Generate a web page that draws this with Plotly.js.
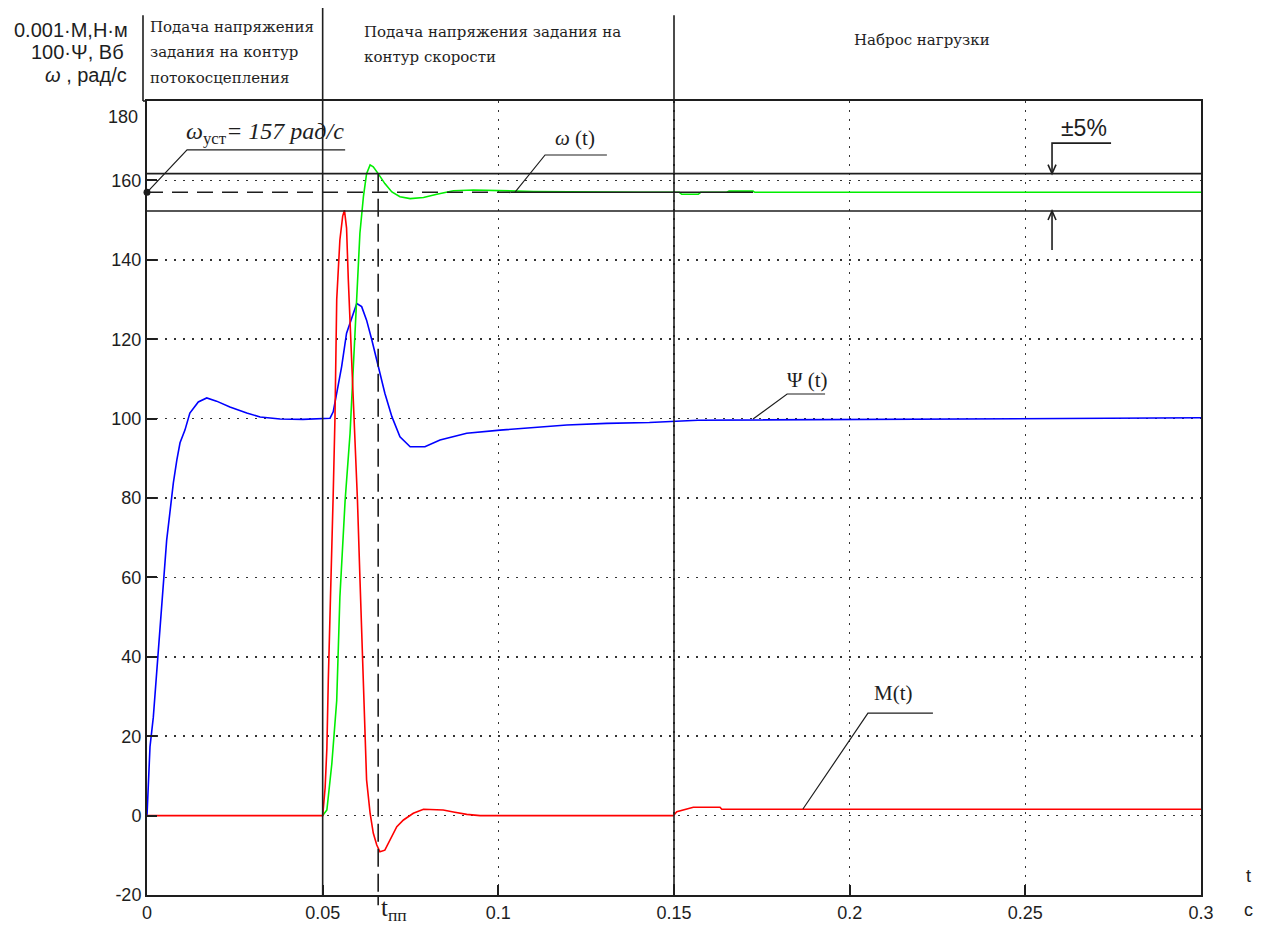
<!DOCTYPE html>
<html>
<head>
<meta charset="utf-8">
<script src="https://cdn.plot.ly/plotly-3.0.1.min.js"></script>
<style>
  html, body { margin: 0; padding: 0; background: #ffffff; }
  #chart { width: 1268px; height: 928px; }
</style>
</head>
<body>
<div id="chart"></div>
<script>
// Flux linkage 100·Ψ, Wb
const tPsi = [0, 0.0004, 0.00085, 0.0018, 0.0028, 0.0037, 0.0046, 0.0056, 0.0065, 0.0075,
  0.0085, 0.0094, 0.0108, 0.0122, 0.0146, 0.0170, 0.0198, 0.0236, 0.0284, 0.0322,
  0.0379, 0.0444, 0.0521, 0.0530, 0.0540, 0.0554, 0.0568, 0.0583, 0.0597, 0.0611,
  0.0625, 0.0640, 0.0658, 0.0677, 0.0697, 0.0720, 0.0749, 0.0791, 0.0834, 0.0910,
  0.1005, 0.1100, 0.1195, 0.1308, 0.1430, 0.1568, 0.2249, 0.3];
const psiValues = [0, 9.5, 17.3, 24.8, 36.7, 49.3, 59.3, 69.4, 76.2, 83.8,
  89.6, 93.9, 97.1, 101.4, 104.2, 105.2, 104.4, 102.9, 101.4, 100.4,
  99.9, 99.8, 100.1, 101.7, 106.4, 113.1, 121.5, 125.7, 129.0, 128.2,
  124.8, 119.8, 113.1, 106.4, 100.5, 95.4, 92.9, 92.9, 94.6, 96.3,
  97.1, 97.8, 98.4, 98.8, 99.0, 99.6, 99.9, 100.2];

// Rotor speed ω, rad/s
const tOmega = [0.0500, 0.0512, 0.0526, 0.0540, 0.0549, 0.0564, 0.0578, 0.0587, 0.0597, 0.0606,
  0.0616, 0.0625, 0.0635, 0.0644, 0.0658, 0.0677, 0.0697, 0.0720, 0.0749, 0.0787,
  0.0825, 0.0872, 0.0929, 0.1005, 0.1100, 0.1400, 0.1515, 0.1522, 0.1569, 0.1576,
  0.1650, 0.1657, 0.1725, 0.1730, 0.3];
const omegaValues = [0, 1.4, 13, 29, 55, 79.5, 96.3, 113, 130, 146.7,
  155.9, 161.7, 163.9, 163.4, 161.7, 159.2, 157.1, 155.9, 155.4, 155.7,
  156.5, 157.4, 157.6, 157.4, 157.2, 157.0, 157.0, 156.5, 156.5, 157.0,
  157.0, 157.3, 157.3, 157.0, 157.0];

// Electromagnetic torque 0.001·M, N·m
const tTorque = [0, 0.0500, 0.0507, 0.0512, 0.0516, 0.0521, 0.0526, 0.0530, 0.0535, 0.0540,
  0.0549, 0.0557, 0.0562, 0.0568, 0.0573, 0.0580, 0.0587, 0.0595, 0.0599, 0.0606,
  0.0616, 0.0625, 0.0635, 0.0644, 0.0654, 0.0663, 0.0677, 0.0692, 0.0711, 0.0730,
  0.0758, 0.0787, 0.0843, 0.0872, 0.0910, 0.0948, 0.1498, 0.1508, 0.1555, 0.1631,
  0.1636, 0.3];
const torqueValues = [0, 0, 7, 17, 34, 49, 66, 81, 100, 130,
  145, 151, 152.5, 148, 135, 121, 105, 88, 79.5, 60,
  35, 9, 0.6, -4.4, -7.4, -9.1, -8.7, -6.1, -2.8, -1.1,
  0.6, 1.6, 1.4, 0.9, 0.3, 0, 0, 1.0, 2.1, 2.1,
  1.6, 1.6];

// Reference levels
const omegaSet = 157;              // steady-state speed, rad/s
const bandLimits = [152.3, 161.7]; // tolerance band around omegaSet
const tSettle = 0.0658;            // settling time t_пп
const stageStarts = [0.05, 0.15];  // speed reference applied, load applied

// Axis ticks
const xTickVals = [0, 0.05, 0.1, 0.15, 0.2, 0.25, 0.3];
const xTickText = ['0', '0.05', '0.1', '0.15', '0.2', '0.25', '0.3'];
const yTickVals = [-20, 0, 20, 40, 60, 80, 100, 120, 140, 160];
const yTickText = ['-20', '0', '20', '40', '60', '80', '100', '120', '140', '160'];
const yTopLabel = '180';

const X_MAX = 0.3;
const Y_RANGE = [-20, 180];
const PLOT_W = 1054, PLOT_H = 794;
const DX = X_MAX / PLOT_W;                       // one pixel along t
const DY = (Y_RANGE[1] - Y_RANGE[0]) / PLOT_H;   // one pixel along the value axis
const INK = '#1e1e1e';
const serif = 'Liberation Serif, Times New Roman, serif';
const sans = 'Liberation Sans, Arial, sans-serif';
const headFont = { family: 'DejaVu Serif, serif', size: 15, color: INK };

const traces = [
  { x: tPsi, y: psiValues, mode: 'lines', line: { color: '#0000ff', width: 1.6 }, hoverinfo: 'skip' },
  { x: tOmega, y: omegaValues, mode: 'lines', line: { color: '#00ee00', width: 1.6 }, hoverinfo: 'skip' },
  { x: tTorque, y: torqueValues, mode: 'lines', line: { color: '#ff0000', width: 1.6 }, hoverinfo: 'skip' },
  { x: [0], y: [omegaSet], mode: 'markers', marker: { color: INK, size: 7 }, cliponaxis: false, hoverinfo: 'skip' }
];

function hLine(y, x0, x1, extra) {
  return Object.assign({ type: 'line', xref: 'x', yref: 'y', x0: x0, x1: x1, y0: y, y1: y,
    line: { color: INK, width: 1.6 }, layer: 'above' }, extra || {});
}
function leader(pts, w) {
  const d = 'M ' + pts.map(p => p[0] + ',' + p[1]).join(' L ');
  return { type: 'path', xref: 'x', yref: 'y', path: d, line: { color: INK, width: w || 1.2 }, layer: 'above' };
}
// open chevron arrowhead with its tip at (x, y); dir = -1 points down, +1 points up
function chevron(x, y, dir) {
  return leader([[x - 4 * DX, y - dir * 9 * DY], [x, y], [x + 4 * DX, y - dir * 9 * DY]], 1.6);
}

const calloutX = 0.2576;
const shapes = [
  // steady-state speed line: dashed, then solid where it runs along ω(t)
  hLine(omegaSet, 0, 0.1035, { line: { color: INK, width: 1.6, dash: '16px,9px' } }),
  hLine(omegaSet, 0.1035, 0.1725),
  // tolerance band
  hLine(bandLimits[0], 0, X_MAX),
  hLine(bandLimits[1], 0, X_MAX),
  // settling time marker
  { type: 'line', xref: 'x', yref: 'y', x0: tSettle, x1: tSettle, y0: bandLimits[1], y1: Y_RANGE[0],
    line: { color: INK, width: 1.6, dash: '18px,7px' }, layer: 'above' },
  { type: 'line', xref: 'paper', yref: 'paper', x0: tSettle / X_MAX, x1: tSettle / X_MAX, y0: 0, y1: -0.013,
    line: { color: INK, width: 1.6 } },
  // stage boundaries reaching into the header
  { type: 'line', xref: 'paper', yref: 'paper', x0: stageStarts[0] / X_MAX, x1: stageStarts[0] / X_MAX,
    y0: 0, y1: 1.117, line: { color: INK, width: 1.6 } },
  { type: 'line', xref: 'paper', yref: 'paper', x0: stageStarts[1] / X_MAX, x1: stageStarts[1] / X_MAX,
    y0: 0, y1: 1.108, line: { color: INK, width: 1.6 } },
  // header frame on the left
  { type: 'line', xref: 'paper', yref: 'paper', x0: -0.0038, x1: -0.0038, y0: 1, y1: 1.108,
    line: { color: INK, width: 1.6 } },
  { type: 'line', xref: 'paper', yref: 'paper', x0: -0.0038, x1: 0, y0: 1, y1: 1,
    line: { color: INK, width: 1.6 } },
  // label leaders
  leader([[0, omegaSet], [0.0114, 167.7], [0.0564, 167.7]]),
  leader([[0.1047, omegaSet], [0.1133, 166.4], [0.1309, 166.4]]),
  leader([[0.1725, 99.9], [0.1822, 106.2], [0.1930, 106.2]]),
  leader([[0.1867, 1.66], [0.2052, 25.8], [0.2237, 25.8]]),
  // tolerance callout
  leader([[0.2744, 169.4], [calloutX, 169.4], [calloutX, bandLimits[1]]], 1.6),
  leader([[calloutX, bandLimits[0]], [calloutX, 142.5]], 1.6),
  chevron(calloutX, bandLimits[1], -1),
  chevron(calloutX, bandLimits[0], 1)
];

function note(text, x, y, font, opts) {
  return Object.assign({ text: text, x: x, y: y, xref: 'x', yref: 'y', showarrow: false,
    font: font, xanchor: 'center', yanchor: 'middle' }, opts || {});
}
function paperNote(text, x, y, font, opts) {
  return Object.assign({ text: text, x: x, y: y, xref: 'paper', yref: 'paper', showarrow: false,
    font: font, xanchor: 'left', yanchor: 'middle' }, opts || {});
}

const labelFont = { family: serif, size: 21, color: INK };
const captionFont = { family: sans, size: 20, color: INK };
const annotations = [
  note('<i>ω</i><sub>уст</sub><i>= 157 рад/с</i>', 0.0106, 171.9, { family: serif, size: 24, color: INK }, { xanchor: 'left' }),
  note('<i>ω</i> (t)', 0.1218, 170.7, labelFont),
  note('Ψ (t)', 0.1881, 109.7, labelFont),
  note('M(t)', 0.2126, 31.0, labelFont),
  note('±5%', 0.2667, 173.2, { family: sans, size: 23, color: INK }),
  // top y tick label sits a little below the frame
  { text: yTopLabel, x: 0, y: 176, xref: 'paper', yref: 'y', xanchor: 'right', yanchor: 'middle',
    xshift: -7, showarrow: false, font: { family: sans, size: 18, color: INK } },
  // axis captions
  paperNote('0.001·M,Н·м', -0.0721, 1.0894, captionFont, { xanchor: 'center' }),
  paperNote('100·Ψ, Вб', -0.0655, 1.0617, captionFont, { xanchor: 'center' }),
  paperNote('<i>ω</i> , рад/с', -0.0579, 1.0327, captionFont, { xanchor: 'center' }),
  paperNote('t', 1.0446, 0.024, { family: sans, size: 18, color: INK }, { xanchor: 'center' }),
  paperNote('с', 1.0446, -0.019, { family: sans, size: 18, color: INK }, { xanchor: 'center' }),
  paperNote('t<sub>пп</sub>', tSettle / X_MAX + 0.001, -0.018, { family: serif, size: 25, color: INK }),
  // stage headings
  paperNote('Подача напряжения', 0.001, 1.0932, headFont),
  paperNote('задания на контур', 0.001, 1.0617, headFont),
  paperNote('потокосцепления', 0.001, 1.0290, headFont),
  paperNote('Подача напряжения задания на', 0.204, 1.0869, headFont),
  paperNote('контур скорости', 0.204, 1.0554, headFont),
  paperNote('Наброс нагрузки', 0.6689, 1.0768, headFont)
];

const axisCommon = {
  showline: true, linecolor: INK, linewidth: 2, mirror: true,
  ticks: 'inside', ticklen: 10, tickwidth: 2, tickcolor: INK,
  showgrid: true, gridcolor: '#333333', gridwidth: 1.5, griddash: '2px,7px',
  zeroline: false, tickfont: { family: sans, size: 18, color: INK },
  tickmode: 'array', fixedrange: true
};

const layout = {
  width: 1268, height: 928,
  margin: { l: 147, r: 67, t: 101, b: 33 },
  paper_bgcolor: '#ffffff', plot_bgcolor: '#ffffff',
  showlegend: false,
  xaxis: Object.assign({}, axisCommon, { range: [0, X_MAX], tickvals: xTickVals, ticktext: xTickText }),
  yaxis: Object.assign({}, axisCommon, { range: Y_RANGE, tickvals: yTickVals, ticktext: yTickText }),
  shapes: shapes,
  annotations: annotations
};

Plotly.newPlot('chart', traces, layout, { displayModeBar: false, staticPlot: true }).then(function () {
  // tidy up empty placeholder text nodes (unused titles, measuring helpers)
  document.querySelectorAll('text, tspan').forEach(function (el) {
    if (!el.textContent.trim()) el.remove();
  });
});
</script>
</body>
</html>
